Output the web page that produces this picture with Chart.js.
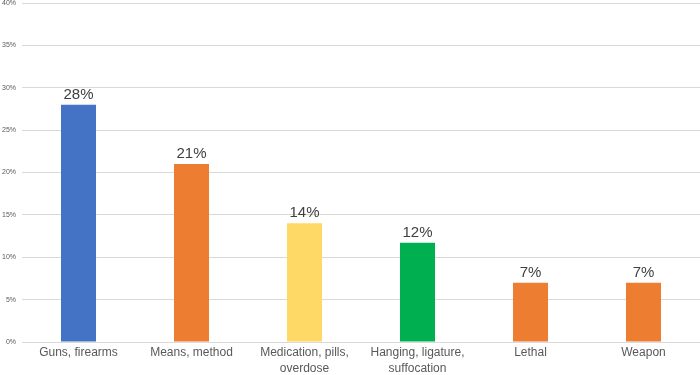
<!DOCTYPE html>
<html>
<head>
<meta charset="utf-8">
<script src="https://cdn.jsdelivr.net/npm/chart.js@4/dist/chart.umd.min.js"></script>
<style>
  html, body { margin: 0; padding: 0; background: #fff; }
  #wrap { width: 700px; height: 375px; }
</style>
</head>
<body>
<div id="wrap"><canvas id="myChart"></canvas></div>
<script>
var categories = [
    'Guns, firearms',
    'Means, method',
    ['Medication, pills,', 'overdose'],
    ['Hanging, ligature,', 'suffocation'],
    'Lethal',
    'Weapon'
];
var values = [28, 21, 14, 11.7, 7, 7];
var valueLabels = ['28%', '21%', '14%', '12%', '7%', '7%'];
var barColors = ['#4472C4', '#ED7D31', '#FFD966', '#00B050', '#ED7D31', '#ED7D31'];

// draw the value labels above each bar
var topLabels = {
    id: 'topLabels',
    afterDatasetsDraw: function (chart) {
        var ctx = chart.ctx;
        var meta = chart.getDatasetMeta(0);
        ctx.save();
        ctx.font = '15px "Liberation Sans", Arial, sans-serif';
        ctx.fillStyle = '#404040';
        ctx.textAlign = 'center';
        ctx.textBaseline = 'alphabetic';
        meta.data.forEach(function (bar, i) {
            ctx.fillText(valueLabels[i], bar.x, bar.y - 6);
        });
        ctx.restore();
    }
};

var myChart = new Chart(document.getElementById('myChart'), {
    type: 'bar',
    data: {
        labels: categories,
        datasets: [{
            data: values,
            backgroundColor: barColors,
            categoryPercentage: 1,
            barPercentage: 0.31
        }]
    },
    options: {
        responsive: true,
        maintainAspectRatio: false,
        animation: false,
        layout: { padding: { top: 3, right: 0, left: 0, bottom: 0 } },
        plugins: {
            legend: { display: false },
            tooltip: { enabled: false }
        },
        scales: {
            x: {
                grid: { display: false, drawTicks: false },
                border: { display: false },
                afterFit: function (axis) { axis.height = 33; },
                ticks: {
                    color: '#595959',
                    font: { family: '"Liberation Sans", Arial, sans-serif', size: 12, lineHeight: 1.3 },
                    maxRotation: 0,
                    autoSkip: false,
                    padding: 3
                }
            },
            y: {
                min: 0,
                max: 40,
                grid: { color: '#d9d9d9', drawTicks: false },
                border: { display: false },
                afterFit: function (axis) {
                    axis.width = 22;
                    axis.paddingTop = 0;
                    axis.paddingBottom = 0;
                },
                ticks: {
                    stepSize: 5,
                    color: '#595959',
                    padding: 6,
                    font: { family: '"Liberation Sans", Arial, sans-serif', size: 7 },
                    callback: function (v) { return v + '%'; }
                }
            }
        }
    },
    plugins: [topLabels]
});
</script>
</body>
</html>
